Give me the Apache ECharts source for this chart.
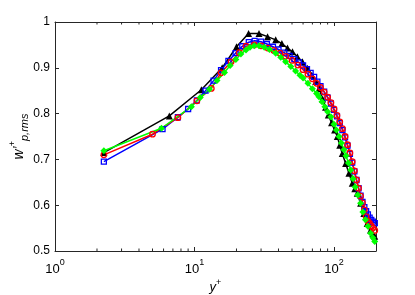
<!DOCTYPE html>
<html>
<head>
<meta charset="utf-8">
<script src="https://cdn.jsdelivr.net/npm/echarts@6/dist/echarts.min.js"></script>
<style>html,body{margin:0;padding:0;background:#fff;}#c{width:415px;height:295px;}</style>
</head>
<body>
<div id="c"></div>
<script>
// ---- data ----
var blackY = [2.24, 6.6, 11.2, 15.8, 20, 24.4, 29, 33.4, 38.2, 42.3, 46.4, 50.4, 54.7, 59.4, 64.5, 69.3, 74, 78.1, 83, 87, 91, 96, 101, 105.6, 110, 114.6, 121.2, 128, 135.2, 141, 146.7, 155.2, 163.8, 172.9, 182.8, 190, 196];
var blackV = [0.715, 0.795, 0.852, 0.900, 0.946, 0.975, 0.975, 0.968, 0.961, 0.953, 0.943, 0.935, 0.924, 0.913, 0.899, 0.884, 0.870, 0.855, 0.832, 0.814, 0.797, 0.780, 0.764, 0.750, 0.731, 0.713, 0.691, 0.670, 0.648, 0.636, 0.626, 0.604, 0.582, 0.560, 0.546, 0.538, 0.532];

var blueY = [2.24, 5.9, 7.6, 9, 10.4, 12, 13.7, 15.5, 17.5, 19.7, 22, 24.5, 27, 30, 33, 36.5, 40, 44, 48, 52, 56, 60, 64, 68, 72, 76, 80, 85, 90, 95, 100, 105, 110, 115, 120, 125, 130, 135, 140, 145, 150, 155, 160, 165, 170, 175, 180, 185, 190, 196];
var blueV = [0.695, 0.766, 0.792, 0.810, 0.829, 0.850, 0.872, 0.895, 0.915, 0.932, 0.947, 0.956, 0.959, 0.957, 0.952, 0.946, 0.940, 0.933, 0.926, 0.919, 0.912, 0.905, 0.897, 0.889, 0.880, 0.870, 0.860, 0.848, 0.835, 0.822, 0.808, 0.794, 0.779, 0.764, 0.748, 0.730, 0.712, 0.693, 0.674, 0.655, 0.637, 0.621, 0.607, 0.596, 0.587, 0.580, 0.573, 0.568, 0.564, 0.561];

var redY = [2.24, 5.0, 7.6, 10.4, 13.2, 15.5, 18.3, 20.9, 23.4, 26.8, 30, 33.5, 37, 41, 45, 50, 55, 60, 65, 70, 75, 80, 85, 90, 95, 100, 105, 110, 115, 120, 125, 130, 135, 140, 145, 150, 155, 160, 165, 170, 175, 180, 185, 190, 196];
var redV = [0.710, 0.755, 0.791, 0.828, 0.855, 0.889, 0.913, 0.933, 0.947, 0.950, 0.948, 0.943, 0.938, 0.932, 0.925, 0.916, 0.906, 0.896, 0.886, 0.876, 0.866, 0.857, 0.847, 0.836, 0.824, 0.810, 0.796, 0.782, 0.767, 0.750, 0.732, 0.714, 0.695, 0.675, 0.655, 0.637, 0.620, 0.605, 0.590, 0.575, 0.565, 0.560, 0.555, 0.550, 0.545];

var greenY = [2.24, 5.8, 9.5, 11, 12.8, 14.5, 16.4, 18, 19.8, 21.5, 23.4, 25, 26.8, 29, 31.6, 34.5, 38.2, 41.5, 45, 49, 53, 57, 60, 65, 70, 75, 78, 82, 86, 90, 95, 100, 104, 108.7, 113, 117.8, 122, 127, 131.9, 137, 142, 148, 155, 161, 168, 175, 183, 190, 196];
var greenV = [0.719, 0.768, 0.815, 0.835, 0.853, 0.872, 0.890, 0.905, 0.918, 0.930, 0.939, 0.945, 0.948, 0.948, 0.945, 0.940, 0.932, 0.923, 0.913, 0.903, 0.893, 0.884, 0.878, 0.866, 0.854, 0.844, 0.837, 0.826, 0.815, 0.804, 0.793, 0.777, 0.764, 0.750, 0.736, 0.721, 0.708, 0.692, 0.677, 0.658, 0.640, 0.622, 0.604, 0.585, 0.568, 0.554, 0.539, 0.529, 0.521];

var xMin = 1, xMax = 200, yMin = 0.5, yMax = 1;
var yTickInterval = 0.1;
var minorTickValues = [2, 3, 4, 5, 6, 7, 8, 9, 20, 30, 40, 50, 60, 70, 80, 90];

function zip(a, b) { return a.map(function (v, i) { return [v, b[i]]; }); }

var FONT = 'Liberation Sans';
var AX = '#262626';

var chart = echarts.init(document.getElementById('c'), null, { renderer: 'canvas' });

function xLabel(v) {
  var e = Math.log10(v);
  var r = Math.round(e);
  if (Math.abs(e - r) > 1e-6) return '';
  return '{b|10}{s|' + r + '}';
}

var option = {
  animation: false,
  backgroundColor: '#fff',
  grid: { left: 55, right: 39, top: 22, bottom: 44, containLabel: false, outerBoundsMode: 'none' },
  xAxis: [{
    type: 'log', logBase: 10, min: xMin, max: xMax, position: 'bottom',
    axisLine: { show: true, lineStyle: { color: AX, width: 1 } },
    axisTick: { show: true, inside: true, length: 4, lineStyle: { color: AX } },
    splitLine: { show: false },
    axisLabel: {
      show: true, margin: 7, formatter: xLabel, showMaxLabel: false,
      rich: {
        b: { fontFamily: FONT, fontSize: 13, color: '#000', lineHeight: 18, verticalAlign: 'bottom' },
        s: { fontFamily: FONT, fontSize: 9, color: '#000', lineHeight: 18, verticalAlign: 'top' }
      }
    },
    name: '{i|y}{s|+}', nameLocation: 'middle', nameGap: 27, nameMoveOverlap: false,
    nameTextStyle: {
      rich: {
        i: { fontFamily: FONT, fontSize: 13, fontStyle: 'italic', color: '#000', lineHeight: 16, verticalAlign: 'bottom' },
        s: { fontFamily: FONT, fontSize: 9, color: '#000', lineHeight: 16, verticalAlign: 'top' }
      }
    }
  }, {
    type: 'log', logBase: 10, min: xMin, max: xMax, position: 'top',
    axisLine: { show: true, lineStyle: { color: AX, width: 1 } },
    axisTick: { show: true, inside: true, length: 4, lineStyle: { color: AX } },
    axisLabel: { show: false }, splitLine: { show: false }
  }],
  yAxis: [{
    type: 'value', min: yMin, max: yMax, interval: yTickInterval, position: 'left',
    axisLine: { show: true, lineStyle: { color: AX, width: 1 } },
    axisTick: { show: true, inside: true, length: 4, lineStyle: { color: AX } },
    splitLine: { show: false },
    axisLabel: { fontFamily: FONT, fontSize: 12, color: '#000', margin: 5 },
    name: '{i|w\u2019}{s|+}{b|p,rms}', nameLocation: 'middle', nameRotate: 90, nameGap: 25, nameMoveOverlap: false,
    nameTextStyle: {
      rich: {
        i: { fontFamily: FONT, fontSize: 14, fontStyle: 'italic', color: '#000', lineHeight: 22, verticalAlign: 'middle' },
        s: { fontFamily: FONT, fontSize: 9, color: '#000', lineHeight: 22, verticalAlign: 'top' },
        b: { fontFamily: FONT, fontSize: 11, fontStyle: 'italic', color: '#000', lineHeight: 22, verticalAlign: 'bottom' }
      }
    }
  }, {
    type: 'value', min: yMin, max: yMax, interval: yTickInterval, position: 'right',
    axisLine: { show: true, lineStyle: { color: AX, width: 1 } },
    axisTick: { show: true, inside: true, length: 4, lineStyle: { color: AX } },
    axisLabel: { show: false }, splitLine: { show: false }
  }],
  series: [
    {
      type: 'custom', silent: true, xAxisIndex: 0, yAxisIndex: 0,
      data: minorTickValues.map(function (v) { return [v, yMin]; }),
      renderItem: function (params, api) {
        var v = api.value(0);
        var b = api.coord([v, yMin]);
        var t = api.coord([v, yMax]);
        return {
          type: 'group', children: [
            { type: 'line', shape: { x1: b[0], y1: b[1], x2: b[0], y2: b[1] - 2.5 }, style: { stroke: AX, lineWidth: 1 } },
            { type: 'line', shape: { x1: t[0], y1: t[1], x2: t[0], y2: t[1] + 2.5 }, style: { stroke: AX, lineWidth: 1 } }
          ]
        };
      }
    },
    {
      name: 'black', type: 'line', data: zip(blackY, blackV),
      symbol: 'triangle', symbolSize: 7,
      itemStyle: { color: '#000' }, lineStyle: { color: '#000', width: 1.5 }
    },
    {
      name: 'blue', type: 'line', data: zip(blueY, blueV),
      symbol: 'rect', symbolSize: 5,
      itemStyle: { color: 'rgba(255,255,255,0)', borderColor: '#0000ff', borderWidth: 1.3 },
      lineStyle: { color: '#0000ff', width: 1.5 }
    },
    {
      name: 'red', type: 'line', data: zip(redY, redV),
      symbol: 'circle', symbolSize: 5.5,
      itemStyle: { color: 'rgba(255,255,255,0)', borderColor: '#ff0000', borderWidth: 1.3 },
      lineStyle: { color: '#ff0000', width: 1.5 }
    },
    {
      name: 'green', type: 'line', data: zip(greenY, greenV),
      symbol: 'diamond', symbolSize: 7,
      itemStyle: { color: '#00ff00' }, lineStyle: { color: '#00ff00', width: 1.5 }
    }
  ]
};
chart.setOption(option);
</script>
</body>
</html>
